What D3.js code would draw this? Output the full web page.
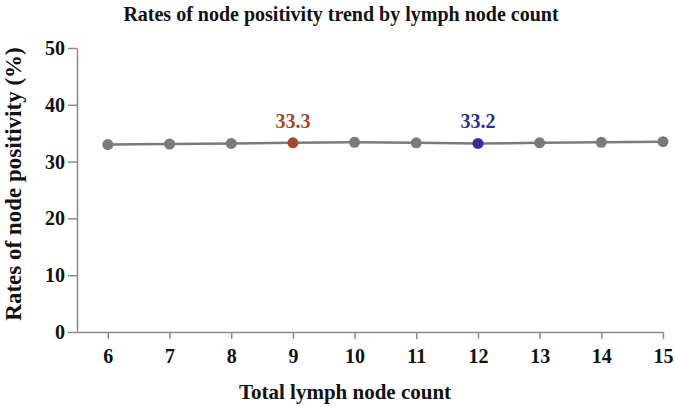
<!DOCTYPE html>
<html>
<head>
<meta charset="utf-8">
<script src="https://cdn.jsdelivr.net/npm/d3@7"></script>
<style>
  body { margin: 0; background: #fff; }
  text { font-family: "Liberation Serif", "Times New Roman", serif; font-weight: bold; }
</style>
</head>
<body>
<div id="mainContainer"></div>
<script>
'use strict';

var counts = [6, 7, 8, 9, 10, 11, 12, 13, 14, 15];
var rates = [33.0, 33.1, 33.2, 33.3, 33.4, 33.3, 33.2, 33.3, 33.4, 33.5];
var highlights = [
    { count: 9, value: 33.3, label: '33.3', color: '#a0492f' },
    { count: 12, value: 33.2, label: '33.2', color: '#2e3192' }
];
var yTicks = [0, 10, 20, 30, 40, 50];

var svgWidth = 675,
    svgHeight = 407,
    axisColor = '#8a8a8a',
    lineColor = '#7a7a7a';

var svg = d3.select('#mainContainer')
    .append('svg')
    .attr('width', svgWidth)
    .attr('height', svgHeight);

var x = d3.scaleLinear().domain([5.5, 15]).range([77, 663]);
var y = d3.scaleLinear().domain([0, 50]).range([332, 48]);

// title
svg.append('text')
    .attr('x', 341)
    .attr('y', 21)
    .attr('text-anchor', 'middle')
    .attr('font-size', 20)
    .attr('fill', '#111')
    .text('Rates of node positivity trend by lymph node count');

// y axis
var yAxis = svg.append('g')
    .attr('transform', 'translate(77,0)')
    .call(d3.axisLeft(y).tickValues(yTicks).tickSize(9).tickSizeOuter(0).tickPadding(3));

// x axis
var xAxis = svg.append('g')
    .attr('transform', 'translate(0,332)')
    .call(d3.axisBottom(x).tickValues(counts).tickSize(7).tickSizeOuter(0).tickPadding(10));

[yAxis, xAxis].forEach(function (ax) {
    ax.select('.domain').attr('stroke', axisColor).attr('stroke-width', 1.5);
    ax.selectAll('.tick line').attr('stroke', axisColor).attr('stroke-width', 1.5);
    ax.selectAll('.tick text')
        .attr('font-size', 20)
        .attr('fill', '#111')
        .attr('font-family', '"Liberation Serif", serif')
        .attr('font-weight', 'bold');
});

// axis titles
svg.append('text')
    .attr('transform', 'translate(21,184) rotate(-90)')
    .attr('text-anchor', 'middle')
    .attr('font-size', 23)
    .attr('fill', '#111')
    .text('Rates of node positivity (%)');

svg.append('text')
    .attr('x', 345)
    .attr('y', 399)
    .attr('text-anchor', 'middle')
    .attr('font-size', 21)
    .attr('fill', '#111')
    .text('Total lymph node count');

// line
var points = counts.map(function (c, i) { return [c, rates[i]]; });

svg.append('path')
    .datum(points)
    .attr('fill', 'none')
    .attr('stroke', lineColor)
    .attr('stroke-width', 2.5)
    .attr('d', d3.line()
        .x(function (d) { return x(d[0]); })
        .y(function (d) { return y(d[1]); }));

svg.selectAll('circle.pt')
    .data(points)
    .enter()
    .append('circle')
    .attr('class', 'pt')
    .attr('cx', function (d) { return x(d[0]); })
    .attr('cy', function (d) { return y(d[1]); })
    .attr('r', 5.5)
    .attr('fill', function (d) {
        var h = highlights.find(function (k) { return k.count === d[0]; });
        return h ? h.color : lineColor;
    });

// highlight labels
svg.selectAll('text.hl')
    .data(highlights)
    .enter()
    .append('text')
    .attr('class', 'hl')
    .attr('x', function (d) { return x(d.count); })
    .attr('y', function (d) { return y(d.value) - 15; })
    .attr('text-anchor', 'middle')
    .attr('font-size', 20)
    .attr('fill', function (d) { return d.color; })
    .text(function (d) { return d.label; });
</script>
</body>
</html>
